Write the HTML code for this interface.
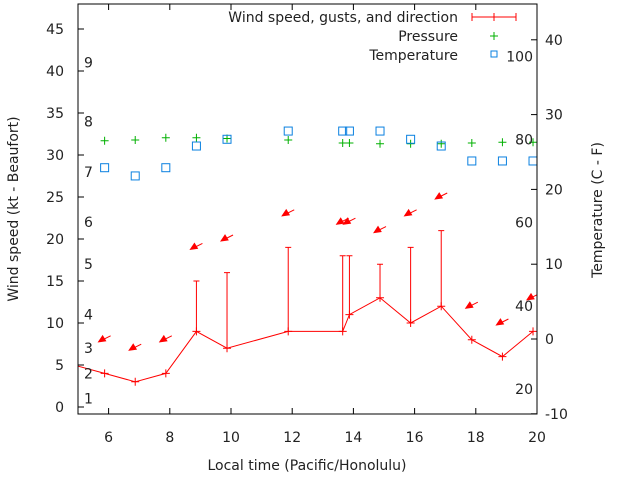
<!DOCTYPE html>
<html><head><meta charset="utf-8"><style>
html,body{margin:0;padding:0;background:#fff}
svg{display:block;font-family:"DejaVu Sans","Liberation Sans",sans-serif}
text{font-size:14px;fill:#222}
</style></head><body>
<svg id="c" width="640" height="480" viewBox="0 0 640 480">
<rect x="0" y="0" width="640" height="480" fill="#fff"/>
<g id="marks"></g>
<g id="axes"></g>
<text x="307" y="470" text-anchor="middle">Local time (Pacific/Honolulu)</text>
<text transform="translate(18,209) rotate(-90)" text-anchor="middle">Wind speed (kt - Beaufort)</text>
<text transform="translate(602,210) rotate(-90)" text-anchor="middle">Temperature (C - F)</text>
<g>
<text x="458" y="22" text-anchor="end">Wind speed, gusts, and direction</text>
<line x1="472" y1="17" x2="516" y2="17" stroke="red"/><line x1="472" y1="13" x2="472" y2="21" stroke="red"/><line x1="516" y1="13" x2="516" y2="21" stroke="red"/><line x1="494" y1="13" x2="494" y2="21" stroke="red"/>
<text x="458" y="41" text-anchor="end">Pressure</text>
<path d="M490 36h8M494 32v8" stroke="#00b000"/>
<text x="458" y="60" text-anchor="end">Temperature</text>
<rect x="491" y="51" width="6" height="6" fill="none" stroke="#0a80e0"/>
</g>
</svg>
<script>
const times=[4.87,5.87,6.87,7.87,8.87,9.87,11.87,13.65,13.87,14.87,15.87,16.87,17.87,18.87,19.87];
const wind=[5,4,3,4,9,7,9,9,11,13,10,12,8,6,9];
const gusts=[null,null,null,null,15,16,19,18,18,17,19,21,null,null,null];
const dirPos=[null,8,7,8,19,20,23,22,22,21,23,25,12,10,13];
const pressure=[null,26.5,26.6,26.9,26.9,26.8,26.6,26.2,26.2,26.1,26.1,26.1,26.2,26.3,26.3];
const temperature=[null,22.9,21.8,22.9,25.8,26.7,27.8,27.8,27.8,27.8,26.7,25.8,23.8,23.8,23.8];
const xTicks=[6,8,10,12,14,16,18,20];
const yTicks=[0,5,10,15,20,25,30,35,40,45];
const y2Ticks=[-10,0,10,20,30,40];
const beaufort=[1,4,7,11,17,22,28,34,41];
const fahrenheit=[20,40,60,80,100];
const L=78,R=537,T=4,B=414;
const X=t=>L+(t-5)*(R-L)/15;
const Y=v=>407-v*8.4;
const Y2=c=>339-c*7.48;
const NS='http://www.w3.org/2000/svg';
const marks=document.getElementById('marks'),axes=document.getElementById('axes');
function mk(p,tag,a,txt){const e=document.createElementNS(NS,tag);for(const k in a)e.setAttribute(k,a[k]);if(txt!==undefined)e.textContent=txt;p.appendChild(e);return e;}
const defs=mk(marks,'defs',{});const cp=mk(defs,'clipPath',{id:'clip'});mk(cp,'rect',{x:L,y:T,width:R-L,height:B-T});
const g=mk(marks,'g',{'clip-path':'url(#clip)'});
let d='';times.forEach((t,i)=>{d+=(i?'L':'M')+X(t)+' '+Y(wind[i]);});
const wl=mk(g,'path',{d:d,fill:'none',stroke:'red'});


times.forEach((t,i)=>{
 const x=X(t),y=Y(wind[i]);
 const p=mk(g,'path',{d:`M${x-4} ${y}h8M${x} ${y-4}v8`,stroke:'red'});
 
 
 if(gusts[i]!=null){const gy=Y(gusts[i]);
  const b=mk(g,'path',{d:`M${x} ${y}V${gy}M${x-3} ${gy}h6`,stroke:'red'});
  
  }
 if(dirPos[i]!=null){const ay=Y(dirPos[i]);
  const a=mk(g,'g',{});
  
  
  mk(a,'line',{x1:x+6,y1:ay-4,x2:x-4,y2:ay+1,stroke:'red'});
  mk(a,'path',{d:`M${x-6} ${ay+2}l4-6l3 5z`,fill:'red',stroke:'red'});}
 if(pressure[i]!=null){const py=Y2(pressure[i]);
  const q=mk(g,'path',{d:`M${x-4} ${py}h8M${x} ${py-4}v8`,stroke:'#00b000'});
  
  }
 if(temperature[i]!=null){const ty=Y2(temperature[i]);
  const s=mk(g,'rect',{x:x-4,y:ty-4,width:8,height:8,fill:'none',stroke:'#0a80e0'});
  
  }
});
mk(axes,'rect',{x:L,y:T,width:R-L,height:B-T,fill:'none',stroke:'#000'});
xTicks.forEach(t=>{const x=X(t);
 mk(axes,'path',{d:`M${x} ${B}v-6M${x} ${T}v6`,stroke:'#000'});
 const e=mk(axes,'text',{x:x,y:442,'text-anchor':'middle'},t);
 
 });
yTicks.forEach(v=>{const y=Y(v);
 mk(axes,'path',{d:`M${L} ${y}h6`,stroke:'#000'});
 const e=mk(axes,'text',{x:64,y:y+5,'text-anchor':'end'},v);
 
 });
y2Ticks.forEach(v=>{const y=Y2(v);
 mk(axes,'path',{d:`M${R} ${y}h-6`,stroke:'#000'});
 const e=mk(axes,'text',{x:545,y:y+5},v);
 
 });
beaufort.forEach((v,i)=>{
 const e=mk(axes,'text',{x:84,y:Y(v)+5},i+1);
 
 });
fahrenheit.forEach(f=>{
 const e=mk(axes,'text',{x:533,y:Y2((f-32)*5/9)+5,'text-anchor':'end'},f);
 
 });
</script>
</body></html>
